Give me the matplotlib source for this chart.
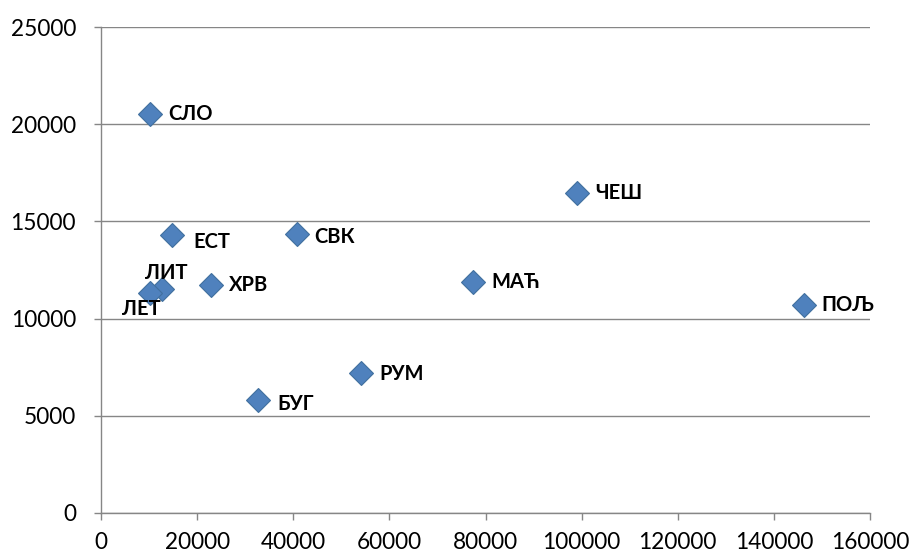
import matplotlib
matplotlib.use("Agg")
import matplotlib.pyplot as plt

labels = ["СЛО", "ЕСТ", "СВК", "ЧЕШ", "ЛИТ", "ЛЕТ", "ХРВ", "МАЋ", "ПОЉ", "РУМ", "БУГ"]
x_vals = [10300, 14800, 40700, 99000, 12800, 10100, 22800, 77400, 146200, 54100, 32700]
y_vals = [20500, 14300, 14350, 16450, 11500, 11300, 11750, 11900, 10700, 7200, 5800]
label_offsets = {"СЛО": (13, 0), "ЕСТ": (15, -5), "СВК": (13, -2), "ЧЕШ": (13, 0),
                 "ЛИТ": (3, 12), "ЛЕТ": (-6, -11), "ХРВ": (13, 0), "МАЋ": (13, 0),
                 "ПОЉ": (13, 0), "РУМ": (13, -1), "БУГ": (14, -3)}

plt.rcParams['font.family'] = ['Lato', 'DejaVu Sans']
fig = plt.figure(figsize=(9.12, 5.57), dpi=100)
ax = fig.add_axes([0.1107, 0.079, 0.8433, 0.8725])

ax.plot(x_vals, y_vals, linestyle='none', marker='D', markersize=12,
        markerfacecolor='#4F81BD', markeredgecolor='#41709F', markeredgewidth=0.8, zorder=3)

for lab, xv, yv in zip(labels, x_vals, y_vals):
    dx, dy = label_offsets[lab]
    ha = 'left'
    if lab in ("ЛИТ", "ЛЕТ"):
        ha = 'center'
    ax.annotate(lab, (xv, yv), xytext=(dx, dy), textcoords='offset points',
                ha=ha, va='center', fontsize=14.5, fontweight='bold', color='black')

ax.set_xlim(0, 160000)
ax.set_ylim(0, 25000)
ax.set_xticks(range(0, 160001, 20000))
ax.set_yticks(range(0, 25001, 5000))
ax.yaxis.grid(True, color='#868686', linewidth=1)
ax.set_axisbelow(True)
for s in ['top', 'right']:
    ax.spines[s].set_visible(False)
for s in ['left', 'bottom']:
    ax.spines[s].set_color('#868686')
    ax.spines[s].set_linewidth(1)
ax.tick_params(axis='both', colors='#868686', length=5, width=1, labelcolor='black', labelsize=16.3)
ax.tick_params(axis='x', pad=9)
ax.tick_params(axis='y', pad=13)

fig.savefig("out.png", dpi=100)
